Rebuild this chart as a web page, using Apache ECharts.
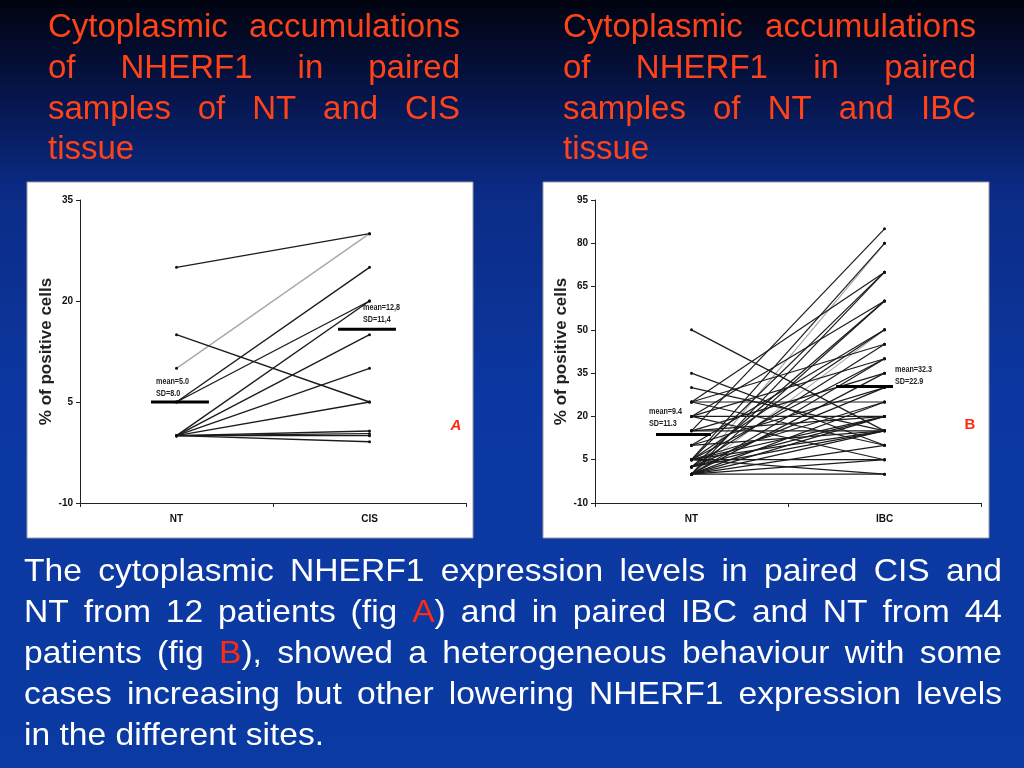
<!DOCTYPE html>
<html><head><meta charset="utf-8">
<script src="https://cdn.jsdelivr.net/npm/echarts@6/dist/echarts.min.js"></script>
<style>html,body{margin:0;padding:0;width:1024px;height:768px;overflow:hidden;background:#0b3aa0}#c{width:1024px;height:768px;}</style>
</head><body><div id="c"></div>
<script>
// ---------- data ----------
const categoriesA = ['NT', 'CIS'];
const categoriesB = ['NT', 'IBC'];
const ntA  = [25, 10, 15, 5, 5, 0, 0, 0, 0, 0, 0, 0, 0];
const cisA = [30, 30, 5, 25, 20, 20, 15, 10, 5, 0.7, 0.3, 0, -0.9];
const ntB  = [15, 5, 0, 25, 5, 0, 20, 2.5, 0, 10, 5, 0, 25, 2.5, 20, 5, 0, 15, 0, 10, 2.5, 25, 5, 0, 20, 15, 5, 0, 2.5, 50, 35, 30, 15, 10, 5, 0, 2.5, 25, 0, 20, 5, 0, 5, 0];
const ibcB = [85, 80, 80, 70, 70, 70, 60, 60, 60, 50, 50, 50, 45, 45, 40, 40, 40, 35, 35, 30, 30, 25, 25, 25, 20, 20, 20, 20, 20, 15, 10, 15, 15, 15, 15, 15, 15, 10, 10, 5, 5, 0, 0, 5];
const lightA = [1];
const lightB = [2, 11];
const meanA = [5, 15.8];
const meanB = [13.7, 30.4];
const meanTextA = [['mean=5.0', 'SD=8.0'], ['mean=12,8', 'SD=11,4']];
const meanTextB = [['mean=9.4', 'SD=11.3'], ['mean=32.3', 'SD=22.9']];
const ticksA = [-10, 5, 20, 35];
const ticksB = [-10, 5, 20, 35, 50, 65, 80, 95];
const yNameA = '% of positive cells';
const yNameB = '% of positive cells';
const titleA = ['Cytoplasmic accumulations', 'of NHERF1 in paired', 'samples of NT and CIS', 'tissue'];
const titleB = ['Cytoplasmic accumulations', 'of NHERF1 in paired', 'samples of NT and IBC', 'tissue'];
const bodyLines = [
  'The cytoplasmic NHERF1 expression levels in paired CIS and',
  'NT from 12 patients (fig [A]) and in paired IBC and NT from 44',
  'patients (fig [B]), showed a heterogeneous behaviour with some',
  'cases increasing but other lowering NHERF1 expression levels',
  'in the different sites.'
];

// ---------- layout / style ----------
const TITLE_COLOR = '#FF4318';
const RED = '#FF2A10';
const FONT = '"Liberation Sans", Arial, sans-serif';
const NARROW = '"Liberation Sans Narrow", "Liberation Sans", Arial, sans-serif';

const ctx = document.createElement('canvas').getContext('2d');
const graphics = [];

// background
graphics.push({type: 'rect', z: -100, shape: {x: 0, y: 0, width: 1024, height: 768},
  style: {fill: {type: 'linear', x: 0, y: 0, x2: 0, y2: 1, colorStops: [
    {offset: 0, color: '#01030f'}, {offset: 0.12, color: '#061448'}, {offset: 0.25, color: '#0b2b86'},
    {offset: 0.5, color: '#0c37a0'}, {offset: 1, color: '#0b3aa3'}]}}});
// panel boxes
[[27, 182], [543, 182]].forEach(p => graphics.push({type: 'rect', z: -50,
  shape: {x: p[0], y: p[1], width: 446, height: 356},
  style: {fill: '#ffffff', stroke: '#9a9a9a', lineWidth: 1}}));

function parseSegs(word) {
  const segs = [];
  const re = /\[([^\]]+)\]|([^\[]+)/g; let m;
  while ((m = re.exec(word))) {
    if (m[1]) segs.push({t: m[1], c: RED}); else segs.push({t: m[2], c: null});
  }
  return segs;
}
function layoutLine(text, x0, x1, baseline, size, color, justify, sx) {
  const font = size + 'px ' + FONT;
  ctx.font = font;
  const words = text.split(' ').map(parseSegs);
  const widths = words.map(w => w.reduce((s, g) => s + ctx.measureText(g.t).width * sx, 0));
  const total = widths.reduce((a, b) => a + b, 0);
  const gap = (justify && words.length > 1) ? (x1 - x0 - total) / (words.length - 1) : ctx.measureText(' ').width * sx;
  let x = x0;
  words.forEach((w, i) => {
    let px = x;
    w.forEach(g => {
      graphics.push({type: 'text', z: 50, x: px, y: baseline - 0.34 * size, scaleX: sx,
        style: {text: g.t, fill: g.c || color, fontSize: size, fontFamily: FONT, align: 'left', verticalAlign: 'middle'}});
      px += ctx.measureText(g.t).width * sx;
    });
    x += widths[i] + gap;
  });
}
const titleBase = [39, 80, 121, 161];
titleA.forEach((l, i) => layoutLine(l, 48, 460, titleBase[i], 33, TITLE_COLOR, i < titleA.length - 1, 1));
titleB.forEach((l, i) => layoutLine(l, 563, 976, titleBase[i], 33, TITLE_COLOR, i < titleB.length - 1, 1));
const bodyBase = [583, 624, 665, 706, 747];
bodyLines.forEach((l, i) => layoutLine(l, 24, 1002, bodyBase[i], 32, '#ffffff', i < bodyLines.length - 1, 1.05));

// panel letters
graphics.push({type: 'text', z: 50, x: 456, y: 426, style: {text: 'A', fill: RED, fontSize: 15, fontWeight: 'bold', fontStyle: 'italic', fontFamily: FONT, align: 'center', verticalAlign: 'middle'}});
graphics.push({type: 'text', z: 50, x: 970, y: 425, style: {text: 'B', fill: RED, fontSize: 15, fontWeight: 'bold', fontFamily: FONT, align: 'center', verticalAlign: 'middle'}});

// mean annotation texts
function meanText(lines, x, y) {
  lines.forEach((t, i) => graphics.push({type: 'text', z: 50, x: x, y: y + i * 12, scaleX: 0.8,
    style: {text: t, fill: '#222', fontSize: 9, fontWeight: 'bold', fontFamily: FONT, align: 'left', verticalAlign: 'middle'}}));
}
meanText(meanTextA[0], 156, 382);
meanText(meanTextA[1], 363, 308);
meanText(meanTextB[0], 649, 412);
meanText(meanTextB[1], 895, 370);

// ---------- chart ----------
const axisFont = {fontSize: 10, fontWeight: 'bold', fontFamily: NARROW, color: '#111'};
function catAxis(cats, gi) {
  return {type: 'category', gridIndex: gi, data: cats, boundaryGap: true,
    axisLine: {onZero: false, lineStyle: {color: '#222', width: 1}},
    axisTick: {show: true, length: 4, lineStyle: {color: '#222'}},
    axisLabel: Object.assign({margin: 11}, axisFont), splitLine: {show: false}};
}
function hiddenX(gi) { return {type: 'value', gridIndex: gi, min: 0, max: 2, show: false}; }
function valAxis(min, max, ticks, name, gi) {
  return {type: 'value', gridIndex: gi, min: min, max: max,
    name: name, nameLocation: 'middle', nameGap: 25, nameRotate: 90,
    nameTextStyle: {fontSize: 17, fontWeight: 'bold', fontFamily: FONT, color: '#222'},
    axisLine: {show: true, onZero: false, lineStyle: {color: '#222', width: 1}},
    axisTick: {show: true, length: 4, customValues: ticks, lineStyle: {color: '#222'}},
    axisLabel: Object.assign({margin: 7, customValues: ticks}, axisFont),
    splitLine: {show: false}};
}
const series = [];
function pairSeries(a, b, light, gi, width) {
  a.forEach((v, i) => {
    const isLight = light.indexOf(i) >= 0;
    series.push({type: 'line', xAxisIndex: gi * 2, yAxisIndex: gi, data: [v, b[i]],
      symbol: 'circle', symbolSize: 3, silent: true, z: isLight ? 2 : 3,
      lineStyle: {color: isLight ? '#a8a8a8' : '#1c1c1c', width: width},
      itemStyle: {color: '#111'}});
  });
}
pairSeries(ntA, cisA, lightA, 0, 1.4);
pairSeries(ntB, ibcB, lightB, 1, 1.2);
const spanA = [[-0.132, 0.168], [-0.163, 0.137]];
const spanB = [[-0.184, 0.101], [-0.251, 0.044]];
function meanSeries(means, spans, gi) {
  means.forEach((m, k) => {
    const c = k + 0.5;
    series.push({type: 'line', xAxisIndex: gi * 2 + 1, yAxisIndex: gi, z: 5, silent: true,
      data: [[c + spans[k][0], m], [c + spans[k][1], m]], symbol: 'none',
      lineStyle: {color: '#000', width: 3}});
  });
}
meanSeries(meanA, spanA, 0);
meanSeries(meanB, spanB, 1);

const chart = echarts.init(document.getElementById('c'), null, {renderer: 'canvas', width: 1024, height: 768});
chart.setOption({
  animation: false,
  backgroundColor: 'transparent',
  grid: [{left: 80, top: 200, width: 386, height: 303}, {left: 595, top: 200, width: 386, height: 303}],
  xAxis: [catAxis(categoriesA, 0), hiddenX(0), catAxis(categoriesB, 1), hiddenX(1)],
  yAxis: [valAxis(-10, 35, ticksA, yNameA, 0), valAxis(-10, 95, ticksB, yNameB, 1)],
  series: series,
  graphic: {elements: graphics}
});
</script>
</body></html>
